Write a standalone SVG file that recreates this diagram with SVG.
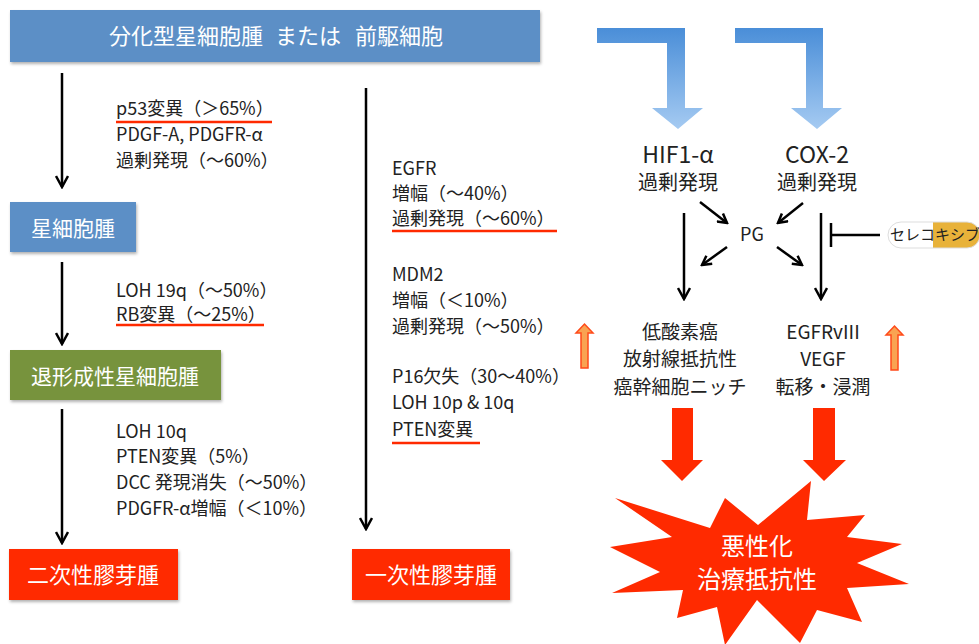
<svg xmlns="http://www.w3.org/2000/svg" width="979" height="644" viewBox="0 0 979 644">
<style>
text{font-family:"Noto Sans CJK JP","Noto Sans",sans-serif;}
.t{font-size:18px;fill:#222;}
.tc{font-size:20px;fill:#222;text-anchor:middle;}
.tr{font-size:19px;fill:#222;text-anchor:middle;}
.bx{fill:#fff;text-anchor:middle;font-size:21px;}
.ln{stroke:#000;stroke-width:2.5;fill:none;}
.ul{stroke:#FF2A00;stroke-width:2.5;}
.blue{fill:#5B8FC6;}
.red{fill:#FF2A00;}
.orn{fill:#F9A352;stroke:#FF4A1A;stroke-width:1.5;}
</style>
<defs>
<filter id="sh" x="-10%" y="-10%" width="120%" height="130%">
<feDropShadow dx="1" dy="2" stdDeviation="1.5" flood-color="#000" flood-opacity="0.3"/>
</filter>
<marker id="ah" viewBox="0 0 14 14" markerWidth="14" markerHeight="14" refX="12" refY="7" orient="auto" markerUnits="userSpaceOnUse">
<path d="M1,1 L12,7 L1,13" fill="none" stroke="#000" stroke-width="2.5"/>
</marker>
<marker id="ah2" viewBox="0 0 12 12" markerWidth="12" markerHeight="12" refX="10" refY="6" orient="auto" markerUnits="userSpaceOnUse">
<path d="M1,1 L10,6 L1,11" fill="none" stroke="#000" stroke-width="2.5"/>
</marker>
<linearGradient id="bg" gradientUnits="userSpaceOnUse" x1="0" y1="28" x2="0" y2="130">
<stop offset="0" stop-color="#4A8ED8"/>
<stop offset="1" stop-color="#A6CBF2"/>
</linearGradient>
<clipPath id="pill"><rect x="888" y="222" width="92" height="26" rx="13"/></clipPath>
</defs>

<g id="connectors">
<line class="ln" x1="62" y1="73" x2="62" y2="187" marker-end="url(#ah)"/>
<line class="ln" x1="62" y1="262" x2="62" y2="344" marker-end="url(#ah)"/>
<line class="ln" x1="62" y1="409" x2="62" y2="543" marker-end="url(#ah)"/>
<line class="ln" x1="366" y1="88" x2="366" y2="529" marker-end="url(#ah)"/>
<line class="ln" x1="684" y1="213" x2="684" y2="299" marker-end="url(#ah)"/>
<line class="ln" x1="821" y1="213" x2="821" y2="299" marker-end="url(#ah)"/>
<line class="ln" x1="700" y1="202" x2="727" y2="223" marker-end="url(#ah2)"/>
<line class="ln" x1="803" y1="203" x2="778" y2="223" marker-end="url(#ah2)"/>
<line class="ln" x1="727" y1="247" x2="702" y2="265" marker-end="url(#ah2)"/>
<line class="ln" x1="777" y1="247" x2="802" y2="265" marker-end="url(#ah2)"/>
<line class="ln" x1="831" y1="223" x2="831" y2="247"/>
<line class="ln" x1="831" y1="235" x2="880" y2="235"/>
<path fill="url(#bg)" d="M597,28 L685,28 L685,108 L703,108 L678,129 L652,108 L667,108 L667,43 L597,43 Z"/>
<path fill="url(#bg)" d="M735,28 L823,28 L823,108 L842,108 L817,129 L791,108 L806,108 L806,43 L735,43 Z"/>
<path class="red" d="M672,408 L693,408 L693,460 L703,460 L682,481 L661,460 L672,460 Z"/>
<path class="red" d="M813,408 L835,408 L835,460 L846,460 L824,481 L803,460 L813,460 Z"/>
<path class="orn" d="M581,368 L588,368 L588,333 L593,333 L584.5,324 L576,333 L581,333 Z"/>
<path class="orn" d="M891,370 L898,370 L898,335 L903,335 L894.5,326 L886,335 L891,335 Z"/>
</g>

<g id="n-top">
<rect class="blue" x="10" y="10" width="530" height="52" filter="url(#sh)"/>
<text class="bx" x="186" y="44" style="font-size:22px">分化型星細胞腫</text>
<text class="bx" x="308" y="44" style="font-size:22px">または</text>
<text class="bx" x="399" y="44" style="font-size:22px">前駆細胞</text>
</g>

<g id="n-astro">
<rect class="blue" x="10" y="202" width="126" height="50" filter="url(#sh)"/>
<text class="bx" x="73" y="236">星細胞腫</text>
</g>

<g id="n-anaplastic">
<rect x="10" y="350" width="211" height="50" fill="#77933C" filter="url(#sh)"/>
<text class="bx" x="115" y="384">退形成性星細胞腫</text>
</g>

<g id="n-secondary">
<rect class="red" x="9" y="549" width="169" height="51" filter="url(#sh)"/>
<text class="bx" x="93" y="583" style="font-size:22px">二次性膠芽腫</text>
</g>

<g id="n-primary">
<rect class="red" x="352" y="549" width="158" height="51" filter="url(#sh)"/>
<text class="bx" x="431" y="583" style="font-size:22px">一次性膠芽腫</text>
</g>

<g id="n-left-text">
<text class="t" x="116" y="115">p53変異（＞65%）</text>
<line class="ul" x1="116" y1="122" x2="272" y2="122"/>
<text class="t" x="116" y="141">PDGF-A, PDGFR-α</text>
<text class="t" x="116" y="167">過剰発現（〜60%）</text>
<text class="t" x="116" y="297">LOH 19q（〜50%）</text>
<text class="t" x="116" y="321">RB変異（〜25%）</text>
<line class="ul" x1="116" y1="325" x2="264" y2="325"/>
<text class="t" x="116" y="438">LOH 10q</text>
<text class="t" x="116" y="463">PTEN変異（5%）</text>
<text class="t" x="116" y="489">DCC 発現消失（〜50%）</text>
<text class="t" x="116" y="515">PDGFR-α増幅（＜10%）</text>
</g>

<g id="n-mid-text">
<text class="t" x="392" y="175">EGFR</text>
<text class="t" x="392" y="200">増幅（〜40%）</text>
<text class="t" x="392" y="225">過剰発現（〜60%）</text>
<line class="ul" x1="392" y1="231" x2="557" y2="231"/>
<text class="t" x="392" y="281">MDM2</text>
<text class="t" x="392" y="307">増幅（＜10%）</text>
<text class="t" x="392" y="333">過剰発現（〜50%）</text>
<text class="t" x="392" y="383">P16欠失（30〜40%）</text>
<text class="t" x="392" y="409">LOH 10p &amp; 10q</text>
<text class="t" x="392" y="436">PTEN変異</text>
<line class="ul" x1="392" y1="443" x2="480" y2="443"/>
</g>

<g id="n-hif">
<text class="tc" x="678" y="163" style="font-size:23px">HIF1-α</text>
<text class="tc" x="678" y="190">過剰発現</text>
</g>

<g id="n-cox">
<text class="tc" x="817" y="163" style="font-size:23px">COX-2</text>
<text class="tc" x="817" y="190">過剰発現</text>
</g>

<g id="n-pg">
<text class="tc" x="752" y="241" style="font-size:18px">PG</text>
</g>

<g id="n-celecoxib">
<g clip-path="url(#pill)">
<rect x="888" y="222" width="92" height="26" fill="#fff"/>
<rect x="933" y="222" width="47" height="26" fill="#E8B23A"/>
</g>
<rect x="888" y="222" width="92" height="26" rx="13" fill="none" stroke="#ddd" stroke-width="1"/>
<text x="890" y="240" style="font-size:15px;fill:#222">セレコキシブ</text>
</g>

<g id="n-hypoxia">
<text class="tr" x="680" y="339">低酸素癌</text>
<text class="tr" x="680" y="366">放射線抵抗性</text>
<text class="tr" x="680" y="394">癌幹細胞ニッチ</text>
</g>

<g id="n-egfrviii">
<text class="tr" x="823" y="339">EGFRvIII</text>
<text class="tr" x="823" y="366">VEGF</text>
<text class="tr" x="823" y="394">転移・浸潤</text>
</g>

<g id="n-burst">
<polygon class="red" points="615,498 710,528 725,498 758,525 811,481 807,520 865,515 847,537 902,544 857,563 909,584 847,588 862,622 817,610 800,643 757,600 725,645 717,607 677,618 683,590 612,593 660,572 610,547 672,537"/>
<text class="bx" x="757" y="555" style="font-size:24px">悪性化</text>
<text class="bx" x="757" y="588" style="font-size:24px">治療抵抗性</text>
</g>
</svg>
